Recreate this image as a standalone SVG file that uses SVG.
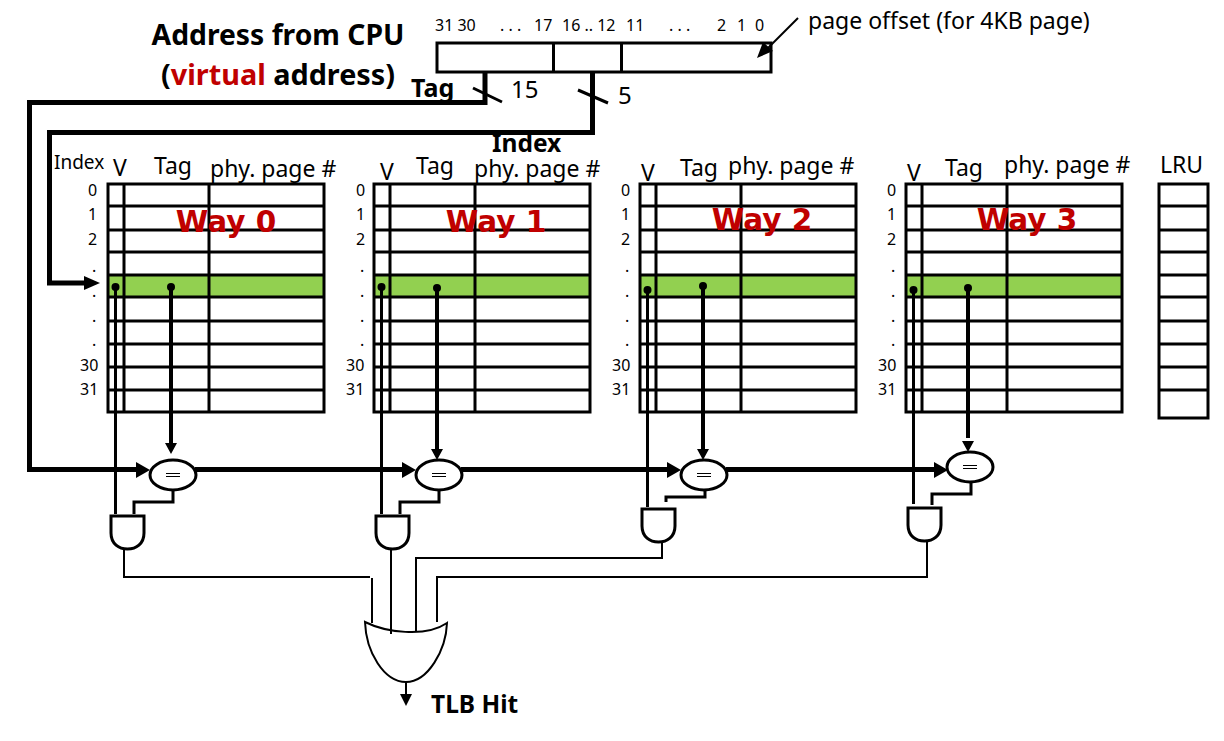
<svg xmlns="http://www.w3.org/2000/svg" width="1224" height="741" viewBox="0 0 1224 741">
<style>
text{font-family:"Noto Sans","Open Sans","DejaVu Sans",sans-serif;fill:#000}
.b{font-weight:700}
.t{font-size:23px}
.n{font-size:16px}
.w{font-size:29.500px;font-weight:700;fill:#c00000;font-family:"DejaVu Sans",sans-serif}
.g{fill:none;stroke:#000;stroke-width:3}
.l{fill:none;stroke:#000;stroke-width:2}
.h{fill:none;stroke:#000;stroke-width:5}
.v{fill:none;stroke:#000;stroke-width:4}
.m{fill:none;stroke:#000;stroke-width:3}
.gate{fill:#fff;stroke:#000;stroke-width:3}
.ah{fill:#000}
</style>
<defs>
<g id="grid">
<rect x="0" y="91" width="216" height="22" fill="#92d050"/>
<path class="g" d="M0 0H216V228H0ZM16 0V228M101 0V228M0 22H216M0 46H216M0 68H216M0 91H216M0 113H216M0 137H216M0 160H216M0 183H216M0 206H216"/>
</g>
<g id="cmp">
<ellipse cx="0" cy="0" rx="23" ry="15" class="gate"/>
<path d="M-7 -1.500H7M-7 1.500H7" stroke="#000" stroke-width="1" fill="none"/>
</g>
<path id="and" class="gate" d="M0 0H33V17C33 28 25 33 16.500 33C8 33 0 28 0 17Z"/>
</defs>

<g id="title">
<text x="278" y="45" text-anchor="middle" class="b" font-size="28.300">Address from CPU</text>
<text x="278" y="85" text-anchor="middle" class="b" font-size="28.800">(<tspan fill="#c00000">virtual</tspan> address)</text>
</g>

<g id="address-register">
<rect x="437" y="43" width="334" height="29" fill="#fff" stroke="#000" stroke-width="3"/>
<path class="g" d="M553.500 43V72M621.500 43V72"/>
<text x="435" y="31" class="n">31 30</text>
<text x="500" y="31" class="n">. . .</text>
<text x="534" y="31" class="n">17</text>
<text x="562" y="31" class="n">16 .. 12</text>
<text x="626" y="31" class="n">11</text>
<text x="669" y="31" class="n">. . .</text>
<text x="717" y="31" class="n">2</text>
<text x="737" y="31" class="n">1</text>
<text x="755" y="31" class="n">0</text>
<text x="808" y="29" font-size="23">page offset (for 4KB page)</text>
<path class="l" d="M798 18L766 50"/>
<path class="ah" d="M757 58L763 42L773 51Z"/>
</g>

<g id="bus-labels">
<text x="411" y="97" class="b" font-size="25">Tag</text>
<text x="511" y="98" font-size="24">15</text>
<text x="618" y="104" font-size="24">5</text>
<text x="492" y="152" class="b" font-size="24.500">Index</text>
<text x="54" y="169" font-size="19">Index</text>
</g>

<g id="way-0">
<use href="#grid" x="108" y="184"/>
<text x="113" y="176" class="t">V</text><text x="154" y="174" class="t">Tag</text><text x="210" y="177" class="t">phy. page #</text>
<text x="88" y="196" class="n">0</text><text x="88" y="220" class="n">1</text><text x="88" y="245" class="n">2</text>
<text x="92" y="272" class="n">.</text><text x="92" y="297" class="n">.</text><text x="92" y="322" class="n">.</text><text x="92" y="346" class="n">.</text>
<text x="80" y="371" class="n">30</text><text x="80" y="395" class="n">31</text>
<text x="226" y="232" text-anchor="middle" class="w">Way 0</text>
</g>
<g id="way-1">
<use href="#grid" x="374" y="184"/>
<text x="380" y="180" class="t">V</text><text x="416" y="174" class="t">Tag</text><text x="474" y="177" class="t">phy. page #</text>
<text x="356" y="196" class="n">0</text><text x="356" y="220" class="n">1</text><text x="356" y="245" class="n">2</text>
<text x="360" y="272" class="n">.</text><text x="360" y="297" class="n">.</text><text x="360" y="322" class="n">.</text><text x="360" y="346" class="n">.</text>
<text x="346" y="371" class="n">30</text><text x="346" y="395" class="n">31</text>
<text x="496" y="232" text-anchor="middle" class="w">Way 1</text>
</g>
<g id="way-2">
<use href="#grid" x="640" y="184"/>
<text x="641" y="181" class="t">V</text><text x="680" y="176" class="t">Tag</text><text x="728" y="174" class="t">phy. page #</text>
<text x="621" y="196" class="n">0</text><text x="621" y="220" class="n">1</text><text x="621" y="245" class="n">2</text>
<text x="625" y="272" class="n">.</text><text x="625" y="297" class="n">.</text><text x="625" y="322" class="n">.</text><text x="625" y="346" class="n">.</text>
<text x="612" y="371" class="n">30</text><text x="612" y="395" class="n">31</text>
<text x="762" y="230" text-anchor="middle" class="w">Way 2</text>
</g>
<g id="way-3">
<use href="#grid" x="906" y="184"/>
<text x="907" y="181" class="t">V</text><text x="945" y="176" class="t">Tag</text><text x="1004" y="173" class="t">phy. page #</text>
<text x="887" y="196" class="n">0</text><text x="887" y="220" class="n">1</text><text x="887" y="245" class="n">2</text>
<text x="891" y="272" class="n">.</text><text x="891" y="297" class="n">.</text><text x="891" y="322" class="n">.</text><text x="891" y="346" class="n">.</text>
<text x="878" y="371" class="n">30</text><text x="878" y="395" class="n">31</text>
<text x="1027" y="230" text-anchor="middle" class="w">Way 3</text>
</g>
<g id="lru">
<text x="1160" y="173" class="t">LRU</text>
<path class="g" d="M1159 184H1208V418H1159ZM1159 206H1208M1159 230H1208M1159 252H1208M1159 275H1208M1159 297H1208M1159 321H1208M1159 344H1208M1159 367H1208M1159 390H1208"/>
</g>

<g id="comparator-0"><use href="#cmp" x="173" y="475"/></g>
<g id="comparator-1"><use href="#cmp" x="439" y="475"/></g>
<g id="comparator-2"><use href="#cmp" x="704" y="475"/></g>
<g id="comparator-3"><use href="#cmp" x="970" y="467"/></g>
<g id="and-0"><use href="#and" x="111" y="516"/></g>
<g id="and-1"><use href="#and" x="376" y="516"/></g>
<g id="and-2"><use href="#and" x="642" y="509"/></g>
<g id="and-3"><use href="#and" x="908" y="508"/></g>
<g id="or-gate">
<path d="M365 622C385 632 425 638 447 623C446 650 428 682 406 682C384 682 366 652 365 622Z" fill="#fff" stroke="#000" stroke-width="2"/>
<text x="431" y="713" class="b" font-size="24.500">TLB Hit</text>
</g>

<g id="connectors">
<path class="h" d="M485 72V102.500H29.500V469.500H140"/>
<path class="h" d="M592.500 72V132.500H49.500V283H88"/>
<path class="ah" d="M84 276L100 283L84 290Z"/>
<path class="m" d="M473 88L502 102M578 90L608 103"/>

<path class="h" d="M195 469.500H405M461 469.500H670M726 469.500H937"/>
<path class="ah" d="M136 462L150 470L136 478ZM402 462L416 470L402 478ZM667 462L681 470L667 478ZM934 462L948 470L934 478Z"/>

<path class="m" d="M115.500 287V514M381.500 287V514M647.500 289V507M913.500 290V504"/>
<circle cx="115.500" cy="287" r="4"/><circle cx="381.500" cy="287" r="4"/><circle cx="647.500" cy="290" r="4"/><circle cx="913.500" cy="290" r="4"/>

<path class="v" d="M171 287V444M437 287V449M703 286V449M968 288V438"/>
<circle cx="171" cy="287" r="4"/><circle cx="437" cy="288" r="4"/><circle cx="703" cy="286" r="4"/><circle cx="968" cy="288" r="4"/>
<path class="ah" d="M165 443H177L171 454ZM431 449H443L437 460ZM697 449H709L703 460ZM962 441H974L968 452Z"/>

<path class="m" d="M173 490V502H134V514M439 490V502H400V514M705 490V497H666V502M971 482V494H932V505"/>

<path class="l" d="M124 550V577H370M372 578V623M391 550V634M416 632V558H662V543M437 622V577H927V540"/>
<path class="l" d="M406 682V696"/>
<path class="ah" d="M400 694H412L406 706Z"/>
</g>
</svg>
